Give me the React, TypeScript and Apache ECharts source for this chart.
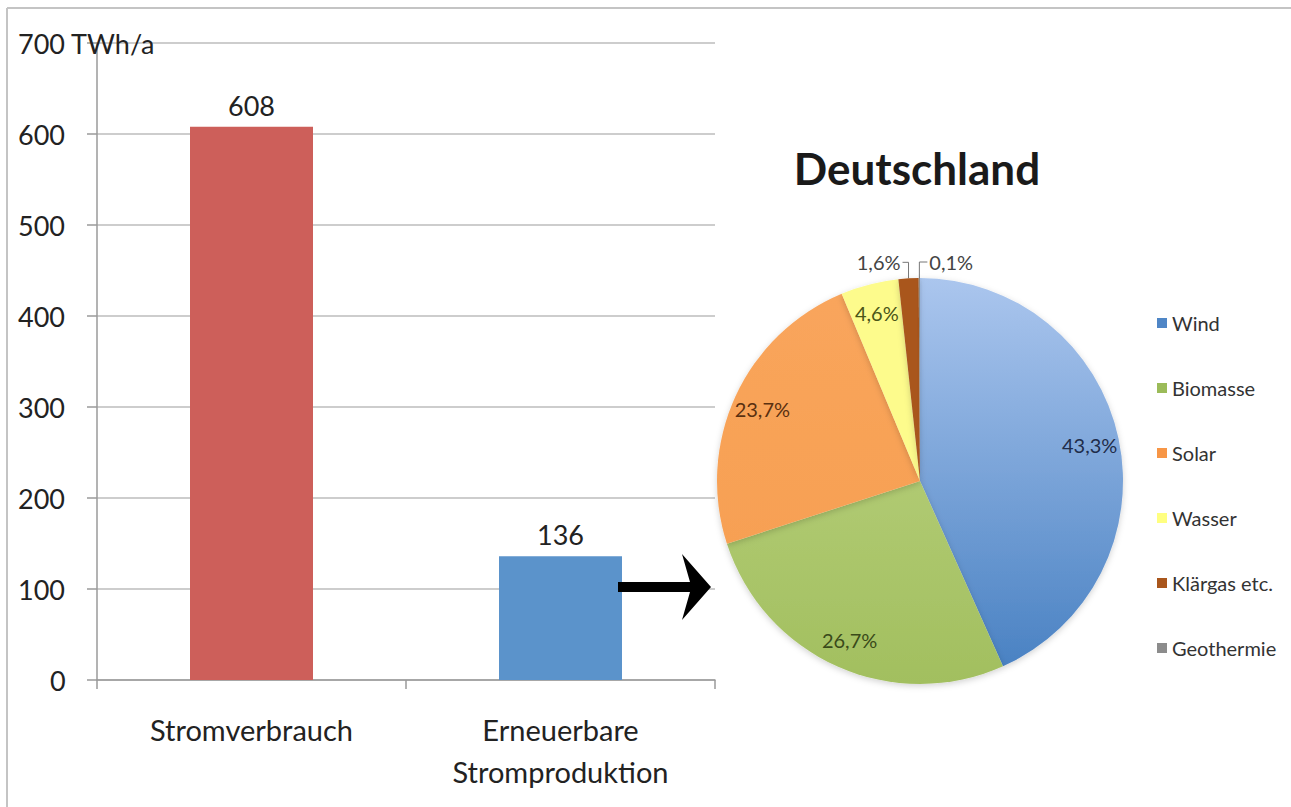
import React, { useEffect, useRef } from "react";
import * as echarts from "echarts";

const categories = ["Stromverbrauch", "Erneuerbare\nStromproduktion"];
const barValues = [608, 136];
const barColors = ["#cd5f5a", "#5b93cb"];
const yMin = 0;
const yMax = 700;
const yInterval = 100;
const yUnit = "TWh/a";

const pieTitle = "Deutschland";
const pieNames = ["Wind", "Biomasse", "Solar", "Wasser", "Klärgas etc.", "Geothermie"];
const pieValues = [43.3, 26.7, 23.7, 4.6, 1.6, 0.1];
const pieLegendColors = ["#4f86c6", "#9bbb59", "#f79646", "#ffff80", "#a9561c", "#8c8c8c"];
const pieInsideLabelColors = ["#1f2d4a", "#3a4a1a", "#5a3010", "#4a5518", "#444", "#444"];
const pieOutside = [false, false, false, false, true, true];

const FONT = "Lato, 'Open Sans', sans-serif";

const fmtPct = (v: number) => v.toFixed(1).replace(".", ",") + "%";

const pieFills: any[] = [
  { type: "linear", x: 0, y: 0, x2: 0, y2: 1, colorStops: [{ offset: 0, color: "#abc6ee" }, { offset: 1, color: "#4a82c3" }] },
  { type: "linear", x: 0, y: 0, x2: 0, y2: 1, colorStops: [{ offset: 0, color: "#b0ca72" }, { offset: 1, color: "#a2bf5f" }] },
  { type: "linear", x: 0, y: 0, x2: 0, y2: 1, colorStops: [{ offset: 0, color: "#f9a55c" }, { offset: 1, color: "#f7a053" }] },
  "#fdfb8c",
  "#a9561c",
  "#8c8c8c",
];

export default function App() {
  const ref = useRef<HTMLDivElement>(null);
  useEffect(() => {
    if (!ref.current) return;
    document.body.style.margin = "0";
    document.body.style.overflow = "hidden";
    const chart = echarts.init(ref.current, null, { renderer: "svg" });
    const cx = 920;
    const cy = 481;
    const r = 203;
    const option: any = {
      animation: false,
      backgroundColor: "#ffffff",
      textStyle: { fontFamily: FONT },
      title: {
        text: pieTitle,
        left: 912,
        top: 141,
        textAlign: "center",
        textStyle: { fontFamily: FONT, fontSize: 44, fontWeight: "bold", color: "#1a1a1a" },
      },
      legend: {
        orient: "vertical",
        left: 1152,
        top: 308,
        icon: "rect",
        itemWidth: 10,
        itemHeight: 10,
        itemGap: 45,
        textStyle: { fontFamily: FONT, fontSize: 20, color: "#333", lineHeight: 20 },
        data: pieNames.map((n, i) => ({ name: n, itemStyle: { color: pieLegendColors[i] } })),
      },
      grid: { left: 97, right: 576, top: 43, bottom: 127 },
      xAxis: {
        type: "category",
        data: categories,
        axisLine: { lineStyle: { color: "#9a9a9a", width: 1.5 } },
        axisTick: { show: true, length: 9, lineStyle: { color: "#9a9a9a", width: 1.5 } },
        axisLabel: { fontFamily: FONT, fontSize: 29, color: "#222", lineHeight: 42, margin: 28 },
      },
      yAxis: {
        type: "value",
        min: yMin,
        max: yMax,
        interval: yInterval,
        axisLine: { show: true, lineStyle: { color: "#9a9a9a", width: 1.5 } },
        axisTick: { show: true, length: 10, lineStyle: { color: "#9a9a9a", width: 1.5 } },
        splitLine: { lineStyle: { color: "#bdbdbd", width: 1.5 } },
        axisLabel: {
          fontFamily: FONT,
          fontSize: 27,
          color: "#222",
          align: "left",
          margin: 79,
          formatter: (v: number) => {
            if (v === yMax) return v + " " + yUnit;
            if (v < 100) return "{p|" + v + "}";
            return String(v);
          },
          rich: { p: { fontFamily: FONT, fontSize: 27, color: "#222", padding: [0, 0, 0, 32] } },
        },
      },
      series: [
        {
          type: "bar",
          data: barValues.map((v, i) => ({ value: v, itemStyle: { color: barColors[i] } })),
          barWidth: 123,
          label: { show: true, position: "top", distance: 8, fontFamily: FONT, fontSize: 27, color: "#222" },
        },
        {
          type: "pie",
          name: "main",
          center: [cx, cy],
          radius: r,
          startAngle: 90,
          clockwise: true,
          avoidLabelOverlap: false,
          itemStyle: { shadowBlur: 6, shadowColor: "rgba(0,0,0,0.18)", shadowOffsetY: 2 },
          label: { show: false },
          labelLine: { show: false },
          data: pieNames.map((n, i) => ({
            name: n,
            value: pieValues[i],
            itemStyle: { color: pieFills[i] },
            label: pieOutside[i]
              ? { show: true, position: "outside", formatter: () => fmtPct(pieValues[i]), fontFamily: FONT, fontSize: 20, color: "#444" }
              : { show: false },
            labelLine: pieOutside[i] ? { show: true, length: 14, length2: 6, lineStyle: { color: "#777", width: 1 } } : { show: false },
          })),
          labelLayout: (p: any) => {
            const pts = p.labelLinePoints;
            if (!pts || !pts[0]) return {};
            const a = pts[0];
            const up = a[1] - 16;
            if (p.dataIndex === 5) {
              return {
                x: a[0] + 10,
                y: up,
                align: "left",
                verticalAlign: "middle",
                labelLinePoints: [[a[0], a[1]], [a[0], up], [a[0] + 8, up]],
              };
            }
            return {
              x: a[0] - 8,
              y: up,
              align: "right",
              verticalAlign: "middle",
              labelLinePoints: [[a[0], a[1]], [a[0], up], [a[0] - 6, up]],
            };
          },
        },
        {
          type: "pie",
          name: "labels",
          center: [cx, cy],
          radius: [138, r],
          startAngle: 90,
          clockwise: true,
          silent: true,
          avoidLabelOverlap: false,
          labelLine: { show: false },
          data: pieNames.map((n, i) => ({
            name: n,
            value: pieValues[i],
            itemStyle: { color: "rgba(0,0,0,0)" },
            label: pieOutside[i]
              ? { show: false }
              : { show: true, position: "inside", formatter: () => fmtPct(pieValues[i]), fontFamily: FONT, fontSize: 20, color: pieInsideLabelColors[i] },
          })),
        },
      ],
      graphic: [
        {
          type: "rect",
          z: 99,
          shape: { x: 1279, y: 9, width: 12, height: 798 },
          style: { fill: "#ffffff" },
          silent: true,
        },
        {
          type: "line",
          z: 100,
          shape: { x1: 7, y1: 8, x2: 1291, y2: 8 },
          style: { stroke: "#c4c4c4", lineWidth: 2 },
          silent: true,
        },
        {
          type: "line",
          z: 100,
          shape: { x1: 7, y1: 8, x2: 7, y2: 807 },
          style: { stroke: "#c4c4c4", lineWidth: 2 },
          silent: true,
        },
        {
          type: "polygon",
          z: 100,
          shape: {
            points: [[618, 582], [690, 582], [682, 554], [711, 587], [682, 620], [690, 592], [618, 592]],
          },
          style: { fill: "#000" },
        },
      ],
    };
    chart.setOption(option);
    return () => chart.dispose();
  }, []);
  return (
    <div
      ref={ref}
      style={{ position: "fixed", left: 0, top: 0, width: 1291, height: 807, background: "#fff" }}
    />
  );
}
